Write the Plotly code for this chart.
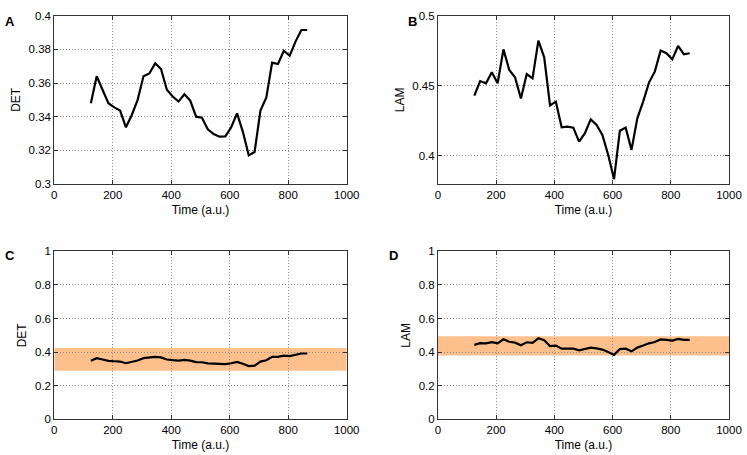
import plotly.graph_objects as go

time = [125, 145, 165, 185, 205, 225, 245, 265, 285, 305, 325, 345, 365, 385, 405,
        425, 445, 465, 485, 505, 525, 545, 565, 585, 605, 625, 645, 665, 685, 705,
        725, 745, 765, 785, 805, 825, 845, 865]
det = [0.348, 0.364, 0.356, 0.348, 0.3455, 0.3436, 0.3337, 0.341, 0.350, 0.364,
       0.3657, 0.3717, 0.3683, 0.356, 0.352, 0.349, 0.3533, 0.3495, 0.340, 0.3394,
       0.3325, 0.3297, 0.3281, 0.3283, 0.3337, 0.342, 0.331, 0.317, 0.319, 0.3436,
       0.3513, 0.3721, 0.3713, 0.3792, 0.3762, 0.3846, 0.3915, 0.3915]
lam = [0.443, 0.4534, 0.4518, 0.4596, 0.4518, 0.476, 0.4613, 0.456, 0.441, 0.4584,
       0.4553, 0.4822, 0.4703, 0.436, 0.4387, 0.4204, 0.4209, 0.4202, 0.4102, 0.4162,
       0.4261, 0.4221, 0.415, 0.4007, 0.3834, 0.418, 0.4202, 0.4043, 0.4268, 0.4387,
       0.4523, 0.4601, 0.4751, 0.4732, 0.4689, 0.4784, 0.4724, 0.4732]
det_band = [0.289, 0.425]
lam_band = [0.379, 0.495]

x_ticks = [0, 200, 400, 600, 800, 1000]
det_ticks_a = [0.3, 0.32, 0.34, 0.36, 0.38, 0.4]
det_labels_a = ["0.3", "0.32", "0.34", "0.36", "0.38", "0.4"]
lam_ticks_b = [0.4, 0.45, 0.5]
lam_labels_b = ["0.4", "0.45", "0.5"]
full_ticks = [0, 0.2, 0.4, 0.6, 0.8, 1]
full_labels = ["0", "0.2", "0.4", "0.6", "0.8", "1"]

FONT = "Liberation Sans, Arial, sans-serif"
fig = go.Figure()

panels = [
    ("x", "y", det, "DET", [0.3, 0.4], det_ticks_a, det_labels_a),
    ("x2", "y2", lam, "LAM", [0.38, 0.5], lam_ticks_b, lam_labels_b),
    ("x3", "y3", det, "DET", [0, 1], full_ticks, full_labels),
    ("x4", "y4", lam, "LAM", [0, 1], full_ticks, full_labels),
]
for xa, ya, vals, *_ in panels:
    fig.add_trace(go.Scatter(x=time, y=vals, xaxis=xa, yaxis=ya, mode="lines",
                             line=dict(color="black", width=2.2), showlegend=False))

band_color = "rgb(253,192,140)"
fig.add_shape(type="rect", xref="x3", yref="y3", x0=0, x1=1000,
              y0=det_band[0], y1=det_band[1], fillcolor=band_color,
              line=dict(width=0), layer="below")
fig.add_shape(type="rect", xref="x4", yref="y4", x0=0, x1=1000,
              y0=lam_band[0], y1=lam_band[1], fillcolor=band_color,
              line=dict(width=0), layer="below")

xdoms = [[0.0727, 0.4641], [0.5863, 0.9759], [0.0727, 0.4641], [0.5863, 0.9759]]
ydoms = [[0.5956, 0.9655], [0.5956, 0.9655], [0.0785, 0.4477], [0.0785, 0.4477]]

common = dict(showline=True, linecolor="#333", linewidth=1, mirror="ticks",
              ticks="inside", ticklen=4, tickcolor="#333",
              showgrid=True, gridcolor="#8c8c8c", griddash="1px,2px", gridwidth=1,
              zeroline=False, automargin=False,
              tickfont=dict(family=FONT, size=11.5, color="black"))

for i, (xa, ya, vals, ytitle, yr, yt, yl) in enumerate(panels):
    xk = "xaxis" if i == 0 else f"xaxis{i+1}"
    yk = "yaxis" if i == 0 else f"yaxis{i+1}"
    fig.update_layout(**{
        xk: dict(domain=xdoms[i], anchor=ya, range=[0, 1000], tickvals=x_ticks,
                 title=dict(text="Time (a.u.)", standoff=5,
                            font=dict(family=FONT, size=12, color="black")),
                 **common),
        yk: dict(domain=ydoms[i], anchor=xa, range=yr, tickvals=yt, ticktext=yl,
                 title=dict(text=ytitle, standoff=5,
                            font=dict(family=FONT, size=12, color="black")),
                 **common),
    })

letters = [("A", 0.004, 0.974), ("B", 0.5435, 0.974), ("C", 0.004, 0.46), ("D", 0.5176, 0.46)]
for t, x, y in letters:
    fig.add_annotation(text=f"<b>{t}</b>", xref="paper", yref="paper", x=x, y=y,
                       xanchor="left", yanchor="top", showarrow=False,
                       font=dict(family=FONT, size=13, color="black"))

fig.update_layout(width=747, height=455, margin=dict(l=0, r=0, t=0, b=0),
                  paper_bgcolor="white", plot_bgcolor="white",
                  font=dict(family=FONT, size=12, color="black"))

fig.write_html("out.html", config={"displayModeBar": False},
               post_script="document.body.style.margin='0px';document.body.style.overflow='hidden';")
